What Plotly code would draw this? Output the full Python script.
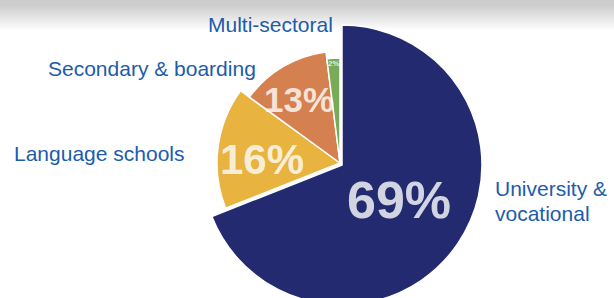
import plotly.graph_objects as go

# ---- data ----
categories = ["University & vocational", "Language schools", "Secondary & boarding", "Multi-sectoral"]
values = [69, 16, 13, 2]
label_lines = [["University &", "vocational"], ["Language schools"], ["Secondary & boarding"], ["Multi-sectoral"]]

# ---- style ----
W, H = 614, 306
colors = ["#232a6f", "#e8b33f", "#d5804f", "#79aa58"]
radii = [140, 123, 112, 105]
centers = [(342, 165), (340, 163), (340, 163), (340, 163)]
pct_sizes = [52, 42, 35, 8]
pct_pos = [(399, 200), (262, 159), (299, 99), (334, 63)]
label_pos = [(493, [188, 213]), (12, [153]), (46, [68]), (206, [24])]
label_color = "#1c5cac"
font_family = "Liberation Sans, Arial, sans-serif"

fig = go.Figure()

# gradient band at top
for i in range(32):
    t = min(max((i - 5) / 25.0, 0), 1)
    g = int(round(205 + (255 - 205) * t))
    fig.add_shape(type="rect", xref="x", yref="y", x0=0, x1=W, y0=i, y1=i + 1,
                  line=dict(width=0), fillcolor=f"rgb({g},{g},{g})", layer="below")

# one pie trace per slice so each slice can have its own radius
for k in range(len(values)):
    cx, cy = centers[k]
    r = radii[k]
    cols = ["rgba(0,0,0,0)"] * len(values)
    cols[k] = colors[k]
    lcols = ["rgba(0,0,0,0)"] * len(values)
    lcols[k] = "white"
    fig.add_trace(go.Pie(
        labels=categories, values=values, sort=False, direction="clockwise", rotation=0,
        marker=dict(colors=cols, line=dict(color=lcols, width=1.5)),
        textinfo="none", hoverinfo="label+percent", showlegend=False,
        domain=dict(x=[(cx - r) / W, (cx + r) / W], y=[max(0, 1 - (cy + r) / H), 1 - (cy - r) / H]),
    ))

# percent labels
for k, v in enumerate(values):
    x, y = pct_pos[k]
    fig.add_annotation(x=x, y=y, xref="x", yref="y", text=f"<b>{v}%</b>", showarrow=False,
                       xanchor="center", yanchor="middle",
                       font=dict(family=font_family, size=pct_sizes[k], color="rgba(255,255,255,0.8)"))

# category labels
for k, lines in enumerate(label_lines):
    x, ys = label_pos[k]
    for line, y in zip(lines, ys):
        fig.add_annotation(x=x, y=y, xref="x", yref="y", text=line, showarrow=False,
                           xanchor="left", yanchor="middle",
                           font=dict(family=font_family, size=21, color=label_color))

fig.update_layout(
    width=W, height=H, margin=dict(l=0, r=0, t=0, b=0),
    paper_bgcolor="white", plot_bgcolor="rgba(0,0,0,0)",
    xaxis=dict(range=[0, W], visible=False, fixedrange=True),
    yaxis=dict(range=[H, 0], visible=False, fixedrange=True),
)
fig.write_html("out.html", config={"displayModeBar": False},
               post_script="document.body.style.margin='0';document.body.style.overflow='hidden';")
